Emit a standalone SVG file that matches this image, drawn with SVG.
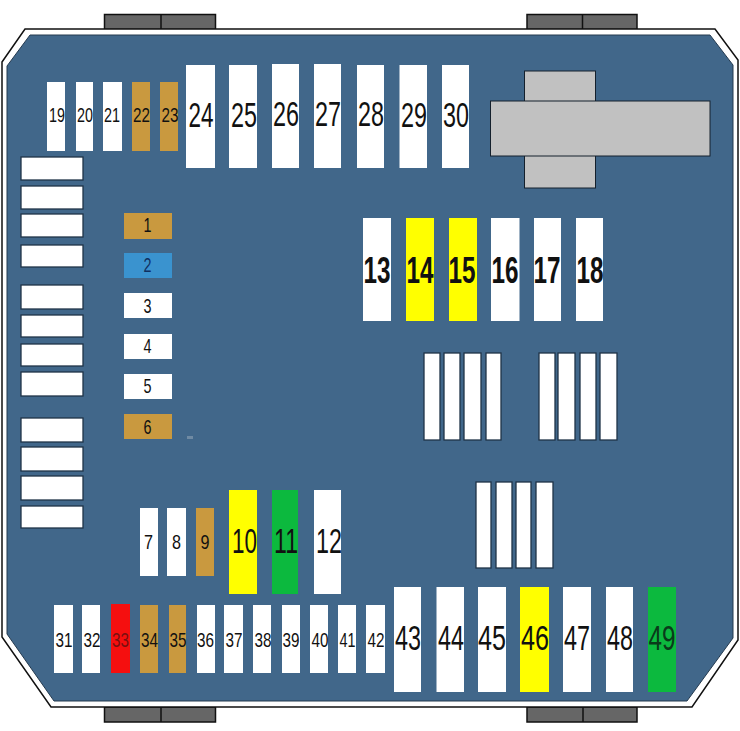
<svg xmlns="http://www.w3.org/2000/svg" width="740" height="731" viewBox="0 0 740 731">
<defs><style>
.f{stroke:none}
.w{fill:#fff}.o{fill:#c9993f}.y{fill:#ffff00}.g{fill:#0cb93e}.r{fill:#f50f0f}.b{fill:#3a93cf}
.s{fill:#fff;stroke:#1f3347;stroke-width:1.3}
.clip{fill:#666;stroke:#111;stroke-width:1.5}
.grey{fill:#c1c1c1;stroke:#14202c;stroke-width:1}
text{font-family:"Liberation Sans",Arial,sans-serif;fill:#111;text-anchor:middle}
.t1{font-size:21px}.t2{font-size:35px}.t3{font-size:37px;font-weight:bold}.t4{font-size:21px}
</style></defs>
<rect width="740" height="731" fill="#fff"/>
<g id="clips">
<rect class="clip" x="104.500" y="14.500" width="111" height="15"/><line x1="161" y1="15" x2="161" y2="29" stroke="#111" stroke-width="1.500"/>
<rect class="clip" x="527" y="14.500" width="110" height="15"/><line x1="582.500" y1="15" x2="582.500" y2="29" stroke="#111" stroke-width="1.500"/>
<rect class="clip" x="104.500" y="707" width="111" height="15"/><line x1="161" y1="707" x2="161" y2="722" stroke="#111" stroke-width="1.500"/>
<rect class="clip" x="527" y="707" width="110" height="15"/><line x1="583" y1="707" x2="583" y2="722" stroke="#111" stroke-width="1.500"/>
</g>
<g id="housing">
<polygon points="2,62 25,29 715,29 738,60 738,640 692,707 51,707 2,637" fill="#fff" stroke="#111" stroke-width="1.500"/>
<polygon points="7,66 30,35 710,35 733,65 733,638 687,701 54,701 7,634" fill="#41678a" stroke="#243a4f" stroke-width="1"/>
</g>
<g id="heat-sink">
<rect class="grey" x="524.500" y="71" width="71" height="117"/>
<rect class="grey" x="490.500" y="101" width="219.500" height="55"/>
</g>
<g id="side-relays">
<rect class="s" x="21" y="157" width="62" height="23"/>
<rect class="s" x="21" y="186" width="62" height="23"/>
<rect class="s" x="21" y="214" width="62" height="23"/>
<rect class="s" x="21" y="245" width="62" height="22"/>
<rect class="s" x="21" y="285" width="62" height="24"/>
<rect class="s" x="21" y="315" width="62" height="22"/>
<rect class="s" x="21" y="344" width="62" height="22"/>
<rect class="s" x="21" y="372" width="62" height="24"/>
<rect class="s" x="21" y="418" width="62" height="24"/>
<rect class="s" x="21" y="447" width="62" height="24"/>
<rect class="s" x="21" y="476" width="62" height="24"/>
<rect class="s" x="21" y="506" width="62" height="22"/>
</g>
<g id="relays-a">
<rect class="s" x="424" y="353" width="16" height="87"/>
<rect class="s" x="444" y="353" width="16" height="87"/>
<rect class="s" x="464" y="353" width="17" height="87"/>
<rect class="s" x="486" y="353" width="15" height="87"/>
</g>
<g id="relays-b">
<rect class="s" x="539" y="353" width="16" height="87"/>
<rect class="s" x="558" y="353" width="17" height="87"/>
<rect class="s" x="580" y="353" width="16" height="87"/>
<rect class="s" x="600" y="353" width="17" height="87"/>
</g>
<g id="relays-c">
<rect class="s" x="476" y="482" width="15" height="86"/>
<rect class="s" x="496" y="482" width="16" height="86"/>
<rect class="s" x="516" y="482" width="15" height="86"/>
<rect class="s" x="536" y="482" width="17" height="86"/>
</g>
<rect x="187" y="436" width="6" height="3" fill="#6f8aa3"/>
<g id="f1"><rect class="f o" x="124" y="213" width="48" height="26"/><text class="t4" x="147.500" y="232" textLength="8" lengthAdjust="spacingAndGlyphs">1</text></g>
<g id="f2"><rect class="f b" x="124" y="253" width="48" height="25"/><text class="t4" x="147.500" y="272" textLength="8" lengthAdjust="spacingAndGlyphs" style="fill:#0f2f5f">2</text></g>
<g id="f3"><rect class="f w" x="124" y="293" width="48" height="25"/><text class="t4" x="147.500" y="313" textLength="8" lengthAdjust="spacingAndGlyphs">3</text></g>
<g id="f4"><rect class="f w" x="124" y="334" width="48" height="25"/><text class="t4" x="147.500" y="353" textLength="8" lengthAdjust="spacingAndGlyphs">4</text></g>
<g id="f5"><rect class="f w" x="124" y="374" width="48" height="25"/><text class="t4" x="147.500" y="393" textLength="8" lengthAdjust="spacingAndGlyphs">5</text></g>
<g id="f6"><rect class="f o" x="124" y="414" width="48" height="25"/><text class="t4" x="147.500" y="434" textLength="8" lengthAdjust="spacingAndGlyphs">6</text></g>
<g id="f7"><rect class="f w" x="140" y="508" width="18" height="68"/><text class="t1" x="148.500" y="549" textLength="9" lengthAdjust="spacingAndGlyphs">7</text></g>
<g id="f8"><rect class="f w" x="167" y="508" width="19" height="68"/><text class="t1" x="176.500" y="549" textLength="9" lengthAdjust="spacingAndGlyphs">8</text></g>
<g id="f9"><rect class="f o" x="196" y="508" width="18" height="68"/><text class="t1" x="205" y="549" textLength="9" lengthAdjust="spacingAndGlyphs">9</text></g>
<g id="f10"><rect class="f y" x="229" y="490" width="28" height="104"/><text class="t2" x="244.500" y="553" textLength="25" lengthAdjust="spacingAndGlyphs">10</text></g>
<g id="f11"><rect class="f g" x="272" y="490" width="26" height="104"/><text class="t2" x="286" y="553" textLength="24" lengthAdjust="spacingAndGlyphs">11</text></g>
<g id="f12"><rect class="f w" x="314" y="490" width="27" height="104"/><text class="t2" x="329" y="553" textLength="26" lengthAdjust="spacingAndGlyphs">12</text></g>
<g id="f13"><rect class="f w" x="363" y="218" width="28" height="103"/><text class="t3" x="377" y="283" textLength="27" lengthAdjust="spacingAndGlyphs">13</text></g>
<g id="f14"><rect class="f y" x="406" y="218" width="28" height="103"/><text class="t3" x="420" y="283" textLength="27" lengthAdjust="spacingAndGlyphs">14</text></g>
<g id="f15"><rect class="f y" x="449" y="218" width="28" height="103"/><text class="t3" x="462" y="283" textLength="27" lengthAdjust="spacingAndGlyphs">15</text></g>
<g id="f16"><rect class="f w" x="491" y="218" width="28.500" height="103"/><text class="t3" x="505" y="283" textLength="27" lengthAdjust="spacingAndGlyphs">16</text></g>
<g id="f17"><rect class="f w" x="534" y="218" width="27" height="103"/><text class="t3" x="547" y="283" textLength="27" lengthAdjust="spacingAndGlyphs">17</text></g>
<g id="f18"><rect class="f w" x="576" y="218" width="27" height="103"/><text class="t3" x="590" y="283" textLength="27" lengthAdjust="spacingAndGlyphs">18</text></g>
<g id="f19"><rect class="f w" x="47" y="82" width="18" height="69"/><text class="t1" x="57" y="122" textLength="16" lengthAdjust="spacingAndGlyphs">19</text></g>
<g id="f20"><rect class="f w" x="76" y="82" width="17" height="69"/><text class="t1" x="85" y="122" textLength="16" lengthAdjust="spacingAndGlyphs">20</text></g>
<g id="f21"><rect class="f w" x="103" y="82" width="19" height="69"/><text class="t1" x="112" y="122" textLength="16" lengthAdjust="spacingAndGlyphs">21</text></g>
<g id="f22"><rect class="f o" x="132" y="82" width="18" height="69"/><text class="t1" x="141.500" y="122" textLength="17" lengthAdjust="spacingAndGlyphs">22</text></g>
<g id="f23"><rect class="f o" x="160" y="82" width="18" height="69"/><text class="t1" x="170" y="122" textLength="17" lengthAdjust="spacingAndGlyphs">23</text></g>
<g id="f24"><rect class="f w" x="186" y="65" width="29" height="103"/><text class="t2" x="201" y="127" textLength="25" lengthAdjust="spacingAndGlyphs">24</text></g>
<g id="f25"><rect class="f w" x="229" y="65" width="28" height="103"/><text class="t2" x="244" y="127" textLength="26" lengthAdjust="spacingAndGlyphs">25</text></g>
<g id="f26"><rect class="f w" x="272" y="64" width="27" height="104"/><text class="t2" x="286" y="126" textLength="26" lengthAdjust="spacingAndGlyphs">26</text></g>
<g id="f27"><rect class="f w" x="314" y="64" width="27" height="104"/><text class="t2" x="328" y="126" textLength="26" lengthAdjust="spacingAndGlyphs">27</text></g>
<g id="f28"><rect class="f w" x="357" y="65" width="27" height="103"/><text class="t2" x="371" y="126" textLength="26" lengthAdjust="spacingAndGlyphs">28</text></g>
<g id="f29"><rect class="f w" x="399.500" y="65" width="27.500" height="103"/><text class="t2" x="414" y="127" textLength="26" lengthAdjust="spacingAndGlyphs">29</text></g>
<g id="f30"><rect class="f w" x="442" y="65" width="27" height="103"/><text class="t2" x="456" y="127" textLength="26" lengthAdjust="spacingAndGlyphs">30</text></g>
<g id="f31"><rect class="f w" x="54" y="605" width="19" height="68"/><text class="t1" x="64" y="647" textLength="17" lengthAdjust="spacingAndGlyphs">31</text></g>
<g id="f32"><rect class="f w" x="82" y="605" width="18" height="68"/><text class="t1" x="92" y="647" textLength="17" lengthAdjust="spacingAndGlyphs">32</text></g>
<g id="f33"><rect class="f r" x="111" y="604" width="19" height="69"/><text class="t1" x="120.500" y="647" textLength="17" lengthAdjust="spacingAndGlyphs" style="fill:#7a1010">33</text></g>
<g id="f34"><rect class="f o" x="140" y="605" width="18" height="68"/><text class="t1" x="149.500" y="647" textLength="17" lengthAdjust="spacingAndGlyphs">34</text></g>
<g id="f35"><rect class="f o" x="169" y="605" width="17" height="68"/><text class="t1" x="178" y="647" textLength="17" lengthAdjust="spacingAndGlyphs">35</text></g>
<g id="f36"><rect class="f w" x="197" y="605" width="18" height="68"/><text class="t1" x="205.500" y="647" textLength="17" lengthAdjust="spacingAndGlyphs">36</text></g>
<g id="f37"><rect class="f w" x="224" y="605" width="19" height="68"/><text class="t1" x="234" y="647" textLength="17" lengthAdjust="spacingAndGlyphs">37</text></g>
<g id="f38"><rect class="f w" x="253" y="605" width="18" height="68"/><text class="t1" x="263" y="647" textLength="17" lengthAdjust="spacingAndGlyphs">38</text></g>
<g id="f39"><rect class="f w" x="282" y="605" width="18" height="68"/><text class="t1" x="291" y="647" textLength="17" lengthAdjust="spacingAndGlyphs">39</text></g>
<g id="f40"><rect class="f w" x="310" y="605" width="18" height="68"/><text class="t1" x="320" y="647" textLength="17" lengthAdjust="spacingAndGlyphs">40</text></g>
<g id="f41"><rect class="f w" x="338" y="605" width="18" height="68"/><text class="t1" x="347.500" y="647" textLength="16" lengthAdjust="spacingAndGlyphs">41</text></g>
<g id="f42"><rect class="f w" x="366" y="605" width="19" height="68"/><text class="t1" x="376" y="647" textLength="17" lengthAdjust="spacingAndGlyphs">42</text></g>
<g id="f43"><rect class="f w" x="394" y="587" width="27" height="105"/><text class="t2" x="408" y="650" textLength="26" lengthAdjust="spacingAndGlyphs">43</text></g>
<g id="f44"><rect class="f w" x="436.500" y="587" width="27.500" height="105"/><text class="t2" x="451" y="650" textLength="26" lengthAdjust="spacingAndGlyphs">44</text></g>
<g id="f45"><rect class="f w" x="478" y="587" width="28" height="105"/><text class="t2" x="492" y="650" textLength="28" lengthAdjust="spacingAndGlyphs">45</text></g>
<g id="f46"><rect class="f y" x="520" y="587" width="29" height="105"/><text class="t2" x="535" y="650" textLength="28" lengthAdjust="spacingAndGlyphs">46</text></g>
<g id="f47"><rect class="f w" x="563" y="587" width="28" height="105"/><text class="t2" x="577" y="650" textLength="26" lengthAdjust="spacingAndGlyphs">47</text></g>
<g id="f48"><rect class="f w" x="606" y="587" width="27" height="105"/><text class="t2" x="620" y="650" textLength="26" lengthAdjust="spacingAndGlyphs">48</text></g>
<g id="f49"><rect class="f g" x="648" y="587" width="28" height="105"/><text class="t2" x="662" y="650" textLength="27" lengthAdjust="spacingAndGlyphs" style="fill:#0a3a1a">49</text></g>
</svg>
